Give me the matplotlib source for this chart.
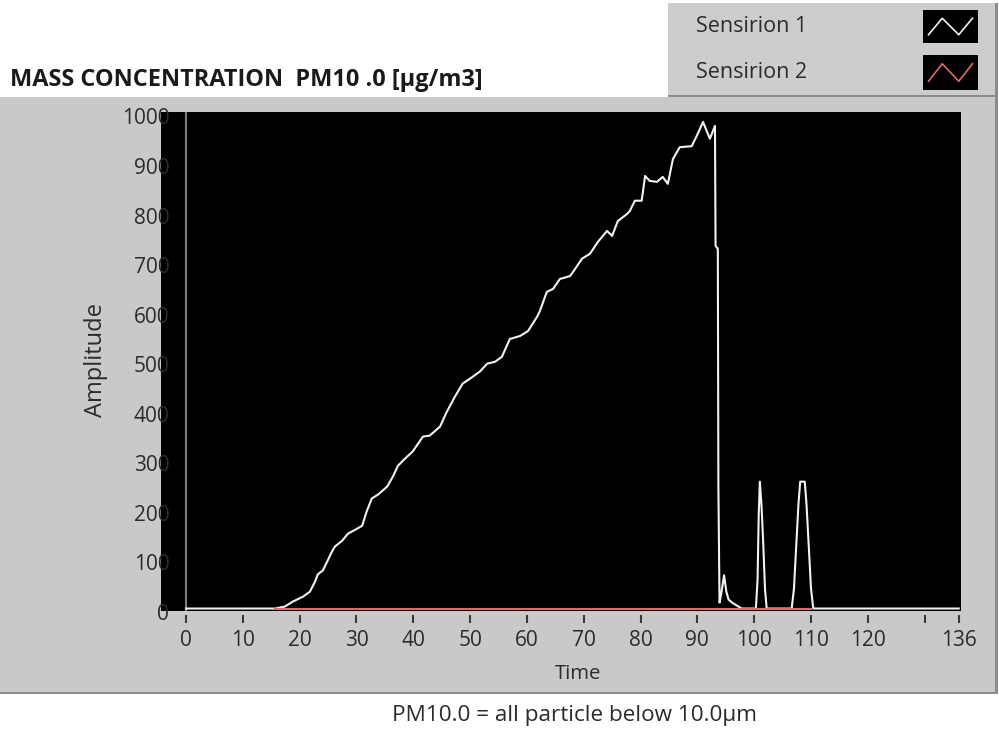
import matplotlib.pyplot as plt
from matplotlib.patches import Rectangle
from matplotlib.transforms import ScaledTranslation

# data
t_sens1 = [0, 15.7, 17.4, 18.8, 20.6, 21.8, 22.7, 23.2, 24.1, 25.7, 26.2, 27.5, 28.5,
           30.1, 31.0, 31.8, 32.7, 33.8, 35.4, 36.4, 37.3, 38.5, 39.9, 41.7, 42.9,
           44.7, 45.9, 47.3, 48.7, 50.0, 51.7, 53.0, 54.4, 55.6, 57.0, 58.8, 60.2,
           61.8, 62.3, 63.5, 64.6, 65.8, 67.6, 68.1, 69.7, 71.1, 72.5, 74.1, 75.0,
           76.0, 77.6, 78.1, 79.0, 80.2, 80.8, 81.6, 82.9, 83.9, 84.8, 85.7, 86.9,
           89.0, 89.9, 91.0, 92.2, 93.1, 93.2, 93.6, 93.7, 93.9, 94.2, 94.7, 95.1,
           95.5, 96.1, 97.8, 100.3, 100.6, 100.8, 101.0, 101.3, 101.6, 101.9, 102.2,
           106.6, 107.0, 107.4, 107.8, 108.1, 108.9, 109.2, 109.6, 110.0, 110.4, 136]
v_sens1 = [0, 0, 4, 14, 24, 34, 54, 69, 77, 115, 125, 137, 151,
           161, 167, 196, 222, 230, 246, 266, 288, 302, 317, 347, 349,
           367, 397, 427, 454, 464, 478, 494, 498, 508, 544, 550, 560,
           589, 601, 639, 645, 665, 671, 679, 706, 716, 740, 762, 752,
           782, 796, 802, 823, 823, 873, 863, 861, 871, 857, 907, 931,
           933, 954, 982, 948, 974, 732, 726, 248, 12, 30, 67, 34,
           18, 12, 0, 0, 60, 190, 256, 205, 130, 40, 0,
           0, 40, 127, 212, 256, 256, 212, 127, 40, 0, 0]
t_sens2 = [15.7, 110.0]
v_sens2 = [0, 0]

x_ticks = [0, 10, 20, 30, 40, 50, 60, 70, 80, 90, 100, 110, 120, 130, 136]
x_labels = ['0', '10', '20', '30', '40', '50', '60', '70', '80', '90', '100',
            '110', '120', '', '136']
y_ticks = [0, 100, 200, 300, 400, 500, 600, 700, 800, 900, 1000]
y_labels = [str(v) for v in y_ticks]
series_names = ['Sensirion 1', 'Sensirion 2']
series_colors = ['#f2f2f2', '#e06a66']

W, H = 999, 732
plt.rcParams['font.family'] = ['Open Sans', 'DejaVu Sans']
fig = plt.figure(figsize=(W / 100, H / 100), dpi=100, facecolor='white')

def fx(px):
    return px / W

def fy(py):
    return 1 - py / H

panel_gray = '#c9c9c9'
text_col = '#2b2b2b'

# main gray panel
fig.patches.append(Rectangle((0, fy(694)), fx(998), fy(97) - fy(694), transform=fig.transFigure,
                             facecolor='#8c8c8c', edgecolor='none', zorder=-3))
fig.patches.append(Rectangle((0, fy(692)), fx(995), fy(97) - fy(692), transform=fig.transFigure,
                             facecolor=panel_gray, edgecolor='none', zorder=-2))

# legend panel
fig.patches.append(Rectangle((fx(668), fy(97)), fx(330), fy(3) - fy(97), transform=fig.transFigure,
                             facecolor='#8c8c8c', edgecolor='none', zorder=-1))
fig.patches.append(Rectangle((fx(668), fy(95)), fx(327), fy(3) - fy(95), transform=fig.transFigure,
                             facecolor='#cdcdcd', edgecolor='none', zorder=-1))

fig.text(fx(10), fy(80), 'MASS CONCENTRATION  PM10 .0 [µg/m3]', fontsize=16.9,
         fontweight='bold', color='#1a1a1a', va='center', ha='left')

ax = fig.add_axes([fx(161), fy(611), fx(800), fy(112) - fy(611)])
ax.set_facecolor('black')
for s in ax.spines.values():
    s.set_visible(False)

ax.axvline(0, color='#808080', lw=1.5, zorder=1)
ax.plot(t_sens1, v_sens1, color=series_colors[0], lw=1.5, zorder=3, clip_on=False)
ax.plot(t_sens2, v_sens2, color=series_colors[1], lw=1.5, zorder=4, clip_on=False)

ax.set_xlim(-4.4, 136.4)
ax.set_ylim(-5, 1002)

ax.spines['bottom'].set_position(('outward', 3))
ax.set_xticks(x_ticks)
ax.set_xticklabels(x_labels)
ax.set_yticks(y_ticks)
ax.set_yticklabels(y_labels)
ax.tick_params(axis='x', direction='out', length=6, width=1.5, color='#3a3a3a',
               labelsize=15, labelcolor=text_col, pad=5)
ax.tick_params(axis='y', length=0, labelsize=15, labelcolor=text_col, pad=-6)
for lab in ax.get_yticklabels():
    lab.set_transform(lab.get_transform() + ScaledTranslation(0, -0.035, fig.dpi_scale_trans))

ax.set_xlabel('Time', fontsize=14.6, color=text_col)
ax.xaxis.set_label_coords((578 - 161) / 800, (611 - 664) / 499)
ax.set_ylabel('Amplitude', fontsize=17, color=text_col)
ax.yaxis.set_label_coords((108 - 161) / 800, (611 - 360) / 499)

fig.text(fx(575), fy(716), 'PM10.0 = all particle below 10.0µm', fontsize=16.2,
         color=text_col, ha='center', va='center')

# legend entries
rows_y = [(10, 43), (55, 90)]
for name, col, (top, bot) in zip(series_names, series_colors, rows_y):
    fig.text(fx(696), fy((top + bot) / 2), name, fontsize=15.5, color=text_col,
             ha='left', va='center')
    icon = fig.add_axes([fx(923), fy(bot), fx(55), fy(top) - fy(bot)])
    icon.set_facecolor('black')
    icon.plot([0.1, 0.35, 0.65, 0.9], [0.25, 0.75, 0.25, 0.75], color=col, lw=1.2)
    icon.set_xlim(0, 1)
    icon.set_ylim(0, 1)
    icon.set_xticks([])
    icon.set_yticks([])
    for s in icon.spines.values():
        s.set_visible(False)

fig.savefig('out.png', dpi=100, facecolor='white')
